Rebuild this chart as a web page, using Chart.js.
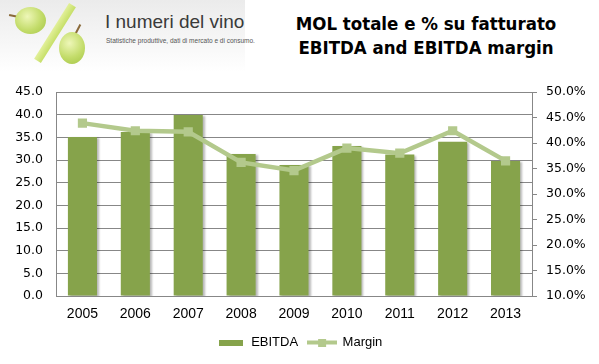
<!DOCTYPE html>
<html lang="it">
<head>
    <meta charset="UTF-8">
    <title>MOL totale e % su fatturato</title>
    <script src="https://cdn.jsdelivr.net/npm/chart.js"></script>
    <style>
        body {
            margin: 0;
            padding: 0;
            background: #ffffff;
        }
        .wrap {
            position: relative;
            width: 599px;
            height: 364px;
        }
        .logo {
            position: absolute;
            left: 0;
            top: 0;
            width: 245px;
            height: 72px;
            background: linear-gradient(#ebebeb, #fbfbfb 80%, #ffffff);
        }
        .grape {
            position: absolute;
            border-radius: 50%;
            background: radial-gradient(circle at 40% 35%, #eef7b8, #c3dc6a 55%, #a3c444);
        }
        .slash {
            position: absolute;
            left: 51px;
            top: 0px;
            width: 8px;
            height: 66px;
            background: linear-gradient(90deg, #e2f09a, #c6df68);
            transform: rotate(32deg);
        }
        .stem {
            position: absolute;
            height: 2px;
            background: #8a6a3a;
        }
        .brand {
            position: absolute;
            left: 105px;
            top: 11px;
            font-family: "Liberation Sans", Arial, sans-serif;
            font-size: 19px;
            color: #3a3a3a;
            white-space: nowrap;
        }
        .brand-sub {
            position: absolute;
            left: 106px;
            top: 37px;
            font-family: "Liberation Sans Narrow", "Liberation Sans", sans-serif;
            font-size: 6.5px;
            color: #555555;
            white-space: nowrap;
        }
        .title {
            position: absolute;
            left: 286px;
            width: 280px;
            top: 12px;
            text-align: center;
            font-family: "DejaVu Sans Condensed", "DejaVu Sans", sans-serif;
            font-weight: bold;
            font-size: 18.5px;
            line-height: 24px;
            color: #000000;
        }
        canvas {
            position: absolute;
            left: 0;
            top: 0;
        }
    </style>
</head>
<body>
<div class="wrap">
    <div class="logo">
        <div class="stem" style="left:9px;top:15px;width:10px;transform:rotate(12deg);"></div>
        <div class="grape" style="left:15px;top:7px;width:31px;height:27px;"></div>
        <div class="slash"></div>
        <div class="stem" style="left:73px;top:28px;width:10px;transform:rotate(-62deg);"></div>
        <div class="grape" style="left:59px;top:32px;width:26px;height:32px;"></div>
        <div class="brand">I numeri del vino</div>
        <div class="brand-sub">Statistiche produttive, dati di mercato e di consumo.</div>
    </div>
    <div class="title">MOL totale e % su fatturato<br>EBITDA and EBITDA margin</div>
    <canvas id="chart" width="599" height="364"></canvas>
</div>

<script>
    const years = ['2005', '2006', '2007', '2008', '2009', '2010', '2011', '2012', '2013'];
    const ebitda = [35.1, 36.2, 39.9, 31.3, 28.9, 33.1, 31.2, 34.0, 29.8];
    const margin = [43.9, 42.4, 42.2, 36.2, 34.6, 39.0, 38.0, 42.4, 36.5];

    const barColor = '#86a34b';
    const lineColor = '#b3c98c';
    const gridColor = '#878787';

    // legend symbols
    function legendBar() {
        const c = document.createElement('canvas');
        c.width = 24; c.height = 6;
        const g = c.getContext('2d');
        g.fillStyle = barColor;
        g.fillRect(0, 0, 24, 6);
        return c;
    }
    function legendLine() {
        const c = document.createElement('canvas');
        c.width = 30; c.height = 8;
        const g = c.getContext('2d');
        g.fillStyle = lineColor;
        g.fillRect(0, 2, 30, 4);
        g.fillRect(11, 0, 8, 8);
        return c;
    }

    const barShadow = {
        id: 'barShadow',
        beforeDatasetDraw(chart, args) {
            if (args.index !== 0) return;
            const ctx = chart.ctx;
            ctx.save();
            ctx.shadowColor = 'rgba(0,0,0,0.28)';
            ctx.shadowOffsetX = 2;
            ctx.shadowOffsetY = 1;
            ctx.shadowBlur = 2;
        },
        afterDatasetDraw(chart, args) {
            if (args.index !== 0) return;
            chart.ctx.restore();
        }
    };

    new Chart(document.getElementById('chart').getContext('2d'), {
        type: 'bar',
        data: {
            labels: years,
            datasets: [{
                label: 'EBITDA',
                data: ebitda,
                backgroundColor: barColor,
                yAxisID: 'y',
                order: 2,
                barPercentage: 0.55,
                categoryPercentage: 1.0
            }, {
                type: 'line',
                label: 'Margin',
                data: margin,
                borderColor: lineColor,
                backgroundColor: lineColor,
                borderWidth: 4.5,
                pointStyle: 'rect',
                pointRadius: 6.5,
                pointHoverRadius: 6.5,
                pointBorderWidth: 0,
                tension: 0,
                yAxisID: 'y1',
                order: 1
            }]
        },
        options: {
            responsive: false,
            animation: false,
            layout: {
                padding: { top: 92, bottom: 5, left: 0, right: 0 }
            },
            plugins: {
                tooltip: { enabled: false },
                legend: {
                    position: 'bottom',
                    labels: {
                        usePointStyle: true,
                        pointStyleWidth: 28,
                        boxHeight: 8,
                        padding: 10,
                        color: '#000000',
                        font: { family: '"Liberation Sans", Arial, sans-serif', size: 13 },
                        generateLabels(chart) {
                            return [
                                { text: 'EBITDA', pointStyle: legendBar(), fillStyle: barColor, strokeStyle: barColor, lineWidth: 0, datasetIndex: 0 },
                                { text: 'Margin', pointStyle: legendLine(), fillStyle: lineColor, strokeStyle: lineColor, lineWidth: 0, datasetIndex: 1 }
                            ];
                        }
                    }
                }
            },
            scales: {
                x: {
                    grid: { display: false, drawTicks: false },
                    border: { color: gridColor },
                    ticks: {
                        color: '#000000',
                        padding: 10,
                        font: { family: '"Liberation Sans", Arial, sans-serif', size: 14 }
                    },
                    afterFit(scale) { scale.height = 30; }
                },
                y: {
                    position: 'left',
                    min: 0,
                    max: 45,
                    grid: { color: gridColor, drawTicks: false },
                    border: { color: gridColor },
                    ticks: {
                        stepSize: 5,
                        color: '#000000',
                        padding: 13,
                        font: { family: '"DejaVu Sans", sans-serif', size: 12.5 },
                        callback: v => v.toFixed(1)
                    },
                    afterFit(scale) { scale.width = 56; }
                },
                y1: {
                    position: 'right',
                    min: 10,
                    max: 50,
                    grid: { drawOnChartArea: false, color: gridColor, tickLength: 5 },
                    border: { color: gridColor },
                    ticks: {
                        stepSize: 5,
                        color: '#000000',
                        padding: 9,
                        font: { family: '"DejaVu Sans", sans-serif', size: 12.5 },
                        callback: v => v.toFixed(1) + '%'
                    },
                    afterFit(scale) { scale.width = 67; }
                }
            }
        },
        plugins: [barShadow]
    });
</script>
</body>
</html>
